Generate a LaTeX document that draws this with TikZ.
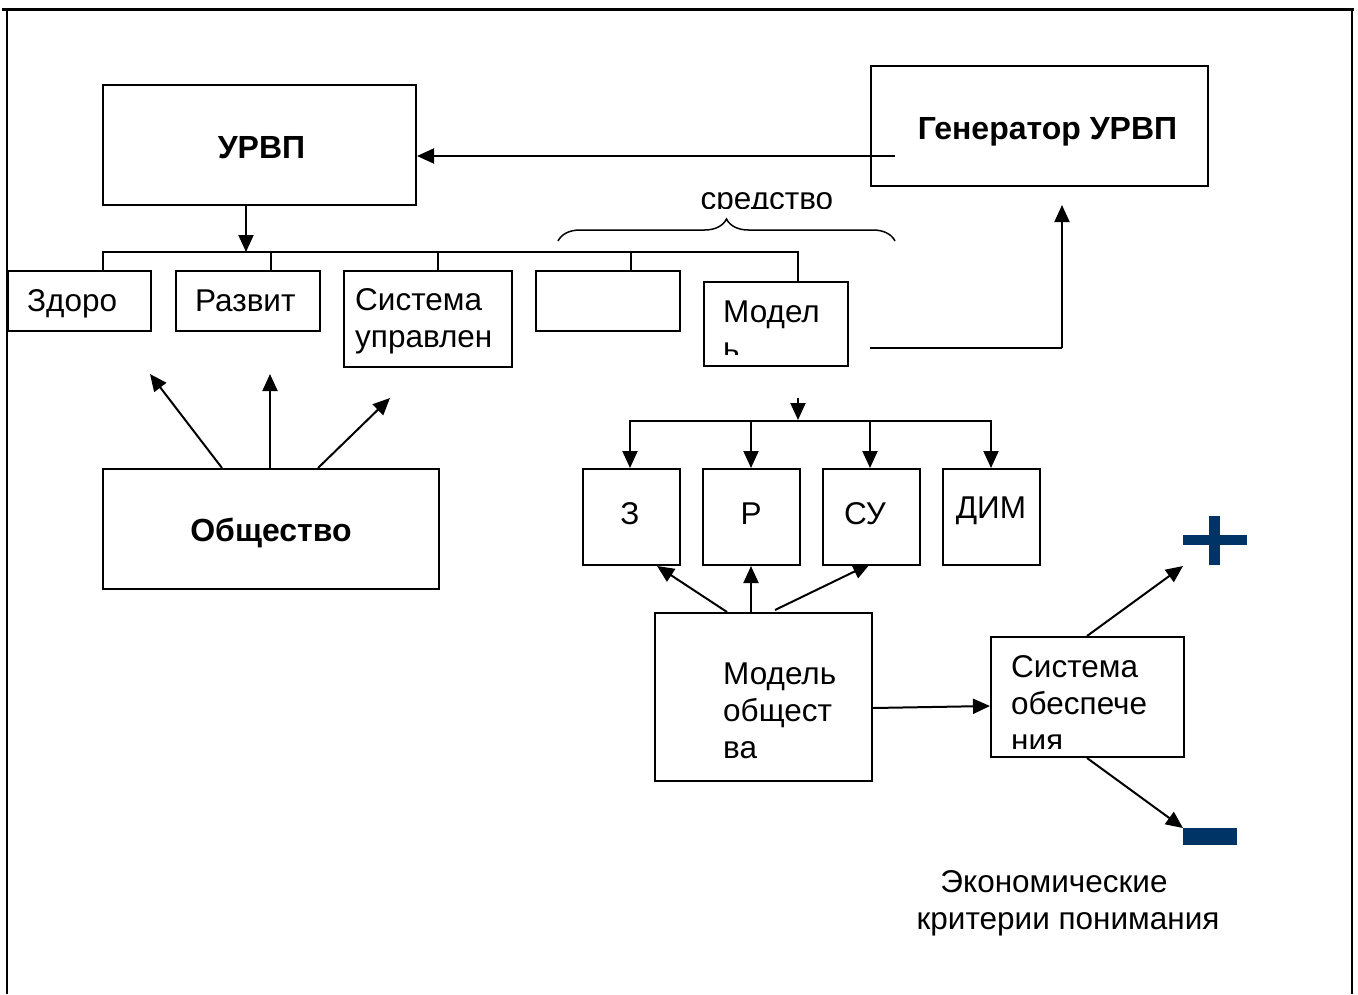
\documentclass[tikz,border=0pt]{standalone}
\usepackage{fontspec}
\setmainfont{Liberation Sans}
\usetikzlibrary{arrows.meta,decorations.pathreplacing}
\definecolor{navy}{HTML}{003366}
\begin{document}
\begin{tikzpicture}[x=1pt,y=-1pt,
  every node/.style={font=\fontsize{31.5}{37}\selectfont},
  bfont/.style={font=\fontsize{32}{37}\selectfont\bfseries},
  box/.style={draw,line width=2pt,inner sep=0pt,anchor=north west},
  conn/.style={line width=2pt},
  arr/.style={line width=2pt,-{Triangle[length=17pt,width=15pt]}},
  lbl/.style={inner sep=0pt,anchor=base west,align=left}]
\useasboundingbox (0,0) rectangle (1358,994);
% outer frame
\draw[line width=3pt] (2,9) -- (1354,9);
\draw[line width=2pt] (7,9) -- (7,994);
\draw[line width=2pt] (1352,9) -- (1352,994);
% top boxes
\node[box,minimum width=313pt,minimum height=120pt] (urvp) at (102,84) {};
\node[bfont] at ([xshift=2pt,yshift=-3pt]urvp.center) {УРВП};
\node[box,minimum width=337pt,minimum height=120pt] (gen) at (870,65) {};
\node[bfont] at ([xshift=8pt,yshift=-6pt]gen.center) {Генератор УРВП};
\coordinate (genout) at (895,156);
\draw[arr] (genout) -- (urvp.east |- genout);
% second row
\node[box,minimum width=143pt,minimum height=60pt] (zd) at (7,270) {};
\node[lbl] at (27,311) {Здоро};
\node[box,minimum width=144pt,minimum height=60pt] (rz) at (175,270) {};
\node[lbl] at (195,311) {Развит};
\node[box,minimum width=168pt,minimum height=96pt] (su) at (343,270) {};
\node[lbl] at (355,347) {Система\\управлен};
\node[box,minimum width=144pt,minimum height=60pt] (bl) at (535,270) {};
\node[box,minimum width=144pt,minimum height=84pt] (mod) at (703,281) {};
\begin{scope}
\clip (704,282) rectangle (846,354);
\node[lbl] at (723,359) {Модел\\ь};
\end{scope}
% bus
\coordinate (bus) at (246,252);
\draw[arr] (urvp.south -| bus) -- (bus);
\draw[conn] (zd.north -| 103,0) -- (103,252) -- (798,252) -- (mod.north -| 798,0);
\draw[conn] (271,252) -- (rz.north -| 271,0);
\draw[conn] (438,252) -- (su.north -| 438,0);
\draw[conn] (631,252) -- (bl.north -| 631,0);
% brace
\draw[line width=1.5pt,decorate,decoration={brace,amplitude=22pt}] (558,241) -- (895,241);
\begin{scope}
\clip (600,150) rectangle (900,208);
\node[lbl,anchor=base] (sr) at (767,209) {средство};
\end{scope}
% Model -> generator
\coordinate (mg) at (1062,348);
\draw[conn] (870,348) -- (mg);
\draw[arr] (mg) -- (1062,205);
% Obshchestvo
\node[box,minimum width=336pt,minimum height=120pt] (ob) at (102,468) {};
\node[bfont] at ([yshift=-4pt]ob.center) {Общество};
\coordinate (t1) at (150,374);
\coordinate (t2) at (270,374);
\coordinate (t3) at (390,398);
\draw[arr] (222,468) -- (t1);
\draw[arr] (270,468) -- (t2);
\draw[arr] (318,468) -- (t3);
% lower row
\node[box,minimum width=97pt,minimum height=96pt] (z) at (582,468) {};
\node[anchor=base] at (630,524) {З};
\node[box,minimum width=97pt,minimum height=96pt] (p) at (702,468) {};
\node[anchor=base] at (751,524) {Р};
\node[box,minimum width=97pt,minimum height=96pt] (cy) at (822,468) {};
\node[anchor=base] at (865,524) {СУ};
\node[box,minimum width=97pt,minimum height=96pt] (dim) at (942,468) {};
\node[anchor=base] at (991,518) {ДИМ};
\draw[arr] (798,398) -- (798,420);
\draw[conn] (630,421) -- (991,421);
\draw[arr] (630,420) -- (z.north -| 630,0);
\draw[arr] (751,420) -- (p.north -| 751,0);
\draw[arr] (870,420) -- (cy.north -| 870,0);
\draw[arr] (991,420) -- (dim.north -| 991,0);
% model of society
\node[box,minimum width=217pt,minimum height=168pt] (ms) at (654,612) {};
\node[lbl] at (723,758) {Модель\\общест\\ва};
\draw[arr] (727,612) -- (657,566);
\draw[arr] (751,612) -- (751,566);
\draw[arr] (775,610) -- (870,564);
% system
\node[box,minimum width=193pt,minimum height=120pt] (so) at (990,636) {};
\begin{scope}
\clip (991,637) rectangle (1182,748);
\node[lbl] at (1011,751) {Система\\обеспече\\ния};
\end{scope}
\draw[arr] (ms.east |- 0,708) -- (so.west |- 0,706);
\coordinate (plus) at (1183,566);
\coordinate (minus) at (1183,828);
\draw[arr] (1087,636) -- (plus);
\draw[arr] (1087,758) -- (minus);
\fill[navy] (1183,535) rectangle (1247,545);
\fill[navy] (1209,516) rectangle (1220,565);
\fill[navy] (1183,828) rectangle (1237,845);
\node[inner sep=0pt,anchor=base] at (1054,892) {Экономические};
\node[inner sep=0pt,anchor=base] at (1068,929) {критерии понимания};
\end{tikzpicture}
\end{document}
